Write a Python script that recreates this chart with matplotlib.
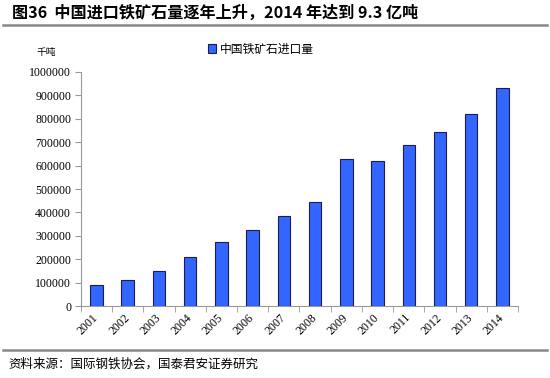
import numpy as np
import matplotlib.pyplot as plt
from matplotlib.lines import Line2D

plt.rcParams['font.family'] = ['Noto Sans CJK SC', 'DejaVu Sans']

years = ['2001', '2002', '2003', '2004', '2005', '2006', '2007',
         '2008', '2009', '2010', '2011', '2012', '2013', '2014']
imports = [92300, 111500, 148100, 208100, 275300, 326300, 383100,
           444100, 627800, 618600, 686100, 743600, 819500, 932500]
yticks = np.arange(0, 1000001, 100000)

fig = plt.figure(figsize=(5.5, 3.78), dpi=100)
ax = fig.add_axes([0.147, 0.19, 0.795, 0.62])

x = np.arange(len(years))
ax.bar(x, imports, width=0.4, color='#3366ff', edgecolor='#1c1c50',
       linewidth=0.8, label='中国铁矿石进口量', zorder=3)

ax.set_xlim(-0.5, len(years) - 0.5)
ax.set_ylim(0, 1000000)
ax.set_yticks(yticks)
ax.set_yticklabels([str(v) for v in yticks], family='Liberation Serif', fontsize=8.5)
ax.set_xticks(x)
ax.set_xticklabels(years, rotation=45, family='Liberation Serif', fontsize=8.5,
                   ha='right', va='center', rotation_mode='anchor')
ax.set_xticks(np.arange(-0.5, len(years)), minor=True)
ax.tick_params(axis='x', which='major', length=0, pad=7)
ax.tick_params(axis='x', which='minor', length=4, color='#999999', direction='out')
ax.tick_params(axis='y', length=4, color='#999999', direction='out', pad=3)

for s in ['top', 'right']:
    ax.spines[s].set_visible(False)
for s in ['left', 'bottom']:
    ax.spines[s].set_color('#999999')
    ax.spines[s].set_linewidth(0.8)

leg = ax.legend(loc='upper left', bbox_to_anchor=(0.267, 1.17), frameon=False,
                fontsize=8.5, handlelength=0.7, handleheight=0.7, handletextpad=0.3)

fig.text(0.084, 0.862, '千吨', fontsize=7, ha='center', va='center')

fig.text(0.022, 0.966, '图36  中国进口铁矿石量逐年上升，2014 年达到 9.3 亿吨',
         fontsize=11.6, fontweight='bold', ha='left', va='center')
fig.add_artist(Line2D([0.005, 0.995], [0.934, 0.934], color='#888888', linewidth=1.8))
fig.add_artist(Line2D([0.005, 0.995], [0.074, 0.074], color='#888888', linewidth=1.8))
fig.text(0.015, 0.037, '资料来源：国际钢铁协会，国泰君安证券研究',
         fontsize=9, ha='left', va='center')

fig.savefig('out.png', dpi=100)
